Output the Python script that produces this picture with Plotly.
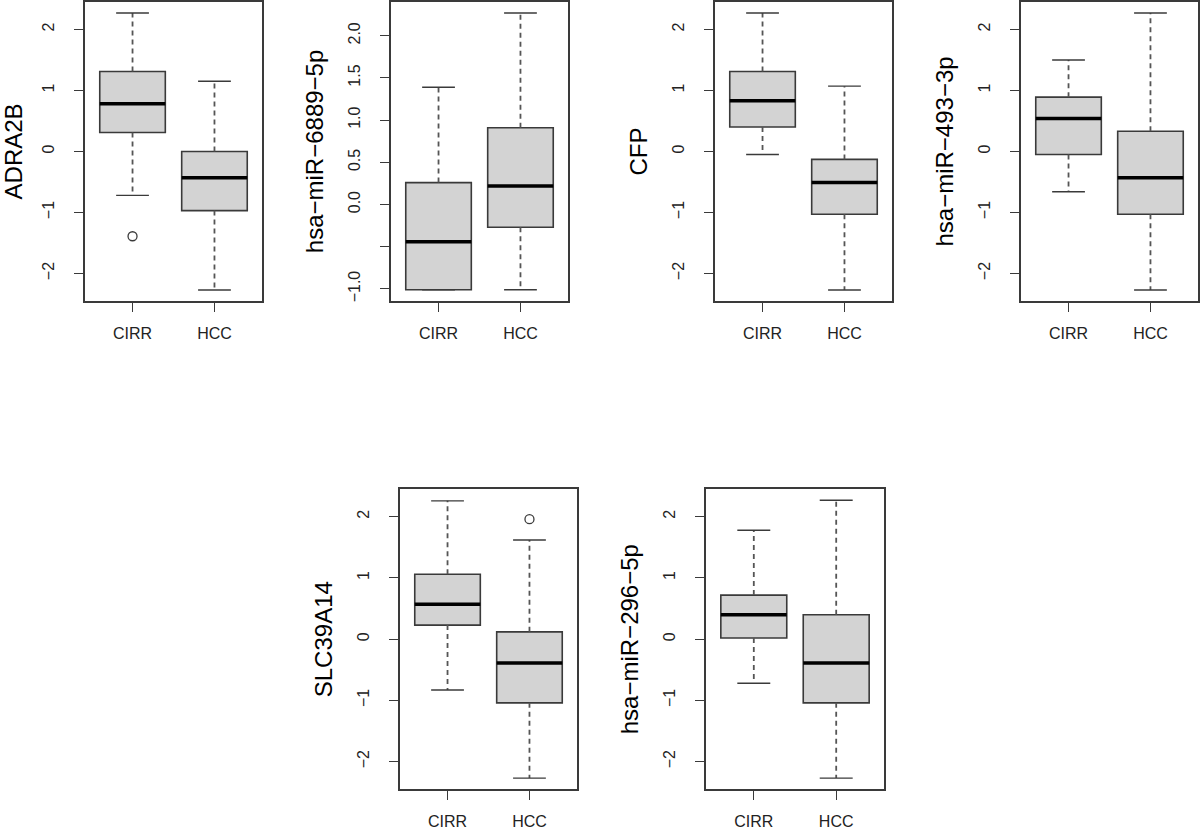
import plotly.graph_objects as go

# ---------------- data ----------------
labels = ["ADRA2B", "hsa−miR−6889−5p", "CFP", "hsa−miR−493−3p", "SLC39A14", "hsa−miR−296−5p"]
groups = ["CIRR", "HCC"]

cirr_lower = [-0.72, -1.01, -0.05, -0.66, -0.83, -0.72]
cirr_q1 = [0.31, -1.01, 0.40, -0.05, 0.23, 0.02]
cirr_median = [0.78, -0.44, 0.83, 0.54, 0.57, 0.40]
cirr_q3 = [1.31, 0.26, 1.31, 0.89, 1.06, 0.72]
cirr_upper = [2.27, 1.39, 2.27, 1.50, 2.26, 1.78]
cirr_outliers = [[-1.39], [], [], [], [], []]

hcc_lower = [-2.27, -1.01, -2.27, -2.27, -2.27, -2.27]
hcc_q1 = [-0.97, -0.27, -1.03, -1.03, -1.04, -1.04]
hcc_median = [-0.43, 0.22, -0.51, -0.43, -0.39, -0.39]
hcc_q3 = [0.00, 0.91, -0.13, 0.33, 0.12, 0.40]
hcc_upper = [1.15, 2.27, 1.07, 2.27, 1.62, 2.27]
hcc_outliers = [[], [], [], [], [1.96], []]

y_ranges = [[-2.45, 2.45], [-1.142, 2.40], [-2.45, 2.45], [-2.45, 2.45], [-2.45, 2.45], [-2.45, 2.45]]
y_tickvals = [[-2, -1, 0, 1, 2], [-1.0, -0.5, 0.0, 0.5, 1.0, 1.5, 2.0], [-2, -1, 0, 1, 2],
              [-2, -1, 0, 1, 2], [-2, -1, 0, 1, 2], [-2, -1, 0, 1, 2]]
y_ticktext = [["−2", "−1", "0", "1", "2"], ["−1.0", "", "0.0", "0.5", "1.0", "1.5", "2.0"],
              ["−2", "−1", "0", "1", "2"], ["−2", "−1", "0", "1", "2"],
              ["−2", "−1", "0", "1", "2"], ["−2", "−1", "0", "1", "2"]]

# ---------------- layout geometry (pixels) ----------------
W, H = 1200, 830
panel_px = [  # x0, x1, y0(top), y1(bottom)
    (85, 262, 2, 302),
    (391, 568, 2, 302),
    (715, 892, 2, 302),
    (1021, 1198, 2, 302),
    (400, 577, 491, 792),
    (706, 884, 491, 792),
]

BOX_W = 0.8
CAP_W = BOX_W / 2
FONT = "Liberation Sans, Arial, Helvetica, sans-serif"
INK = "#3a3a3a"
FILL = "#d3d3d3"

fig = go.Figure()
layout = {}

for i, lab in enumerate(labels):
    n = "" if i == 0 else str(i + 1)
    xa, ya = "x" + n, "y" + n
    stats = [
        (1, cirr_lower[i], cirr_q1[i], cirr_median[i], cirr_q3[i], cirr_upper[i], cirr_outliers[i]),
        (2, hcc_lower[i], hcc_q1[i], hcc_median[i], hcc_q3[i], hcc_upper[i], hcc_outliers[i]),
    ]
    for pos, lo, q1, med, q3, hi, outs in stats:
        # dashed whiskers
        fig.add_trace(go.Scatter(
            x=[pos, pos, None, pos, pos], y=[q3, hi, None, q1, lo],
            mode="lines", line=dict(color="#555555", width=1.8, dash="5px,4px"),
            xaxis=xa, yaxis=ya, showlegend=False, hoverinfo="skip"))
        # staples
        fig.add_trace(go.Scatter(
            x=[pos - CAP_W / 2, pos + CAP_W / 2, None, pos - CAP_W / 2, pos + CAP_W / 2],
            y=[hi, hi, None, lo, lo],
            mode="lines", line=dict(color=INK, width=1.4),
            xaxis=xa, yaxis=ya, showlegend=False, hoverinfo="skip"))
        # box body
        fig.add_trace(go.Box(
            x=[pos], q1=[q1], median=[med], q3=[q3], lowerfence=[q1], upperfence=[q3],
            width=BOX_W, whiskerwidth=0, fillcolor=FILL,
            line=dict(color=INK, width=1.6), boxpoints=False,
            xaxis=xa, yaxis=ya, showlegend=False, name=groups[pos - 1]))
        # thick median
        fig.add_trace(go.Scatter(
            x=[pos - BOX_W / 2, pos + BOX_W / 2], y=[med, med],
            mode="lines", line=dict(color="black", width=3.5),
            xaxis=xa, yaxis=ya, showlegend=False, hoverinfo="skip"))
        if outs:
            fig.add_trace(go.Scatter(
                x=[pos] * len(outs), y=outs, mode="markers",
                marker=dict(symbol="circle-open", size=9, color=INK, line=dict(width=1.3)),
                xaxis=xa, yaxis=ya, showlegend=False))

    x0, x1, t, b = panel_px[i]
    layout["xaxis" + n] = dict(
        domain=[x0 / W, x1 / W], anchor=ya, range=[0.42, 2.58],
        tickvals=[1, 2], ticktext=groups, ticks="outside", ticklen=9, tickwidth=1.4,
        tickcolor=INK, showline=True, mirror=True, linecolor=INK, linewidth=1.5,
        showgrid=False, zeroline=False, tickfont=dict(size=16, color="#222222", family=FONT),
        ticklabelstandoff=8)
    layout["yaxis" + n] = dict(
        domain=[1 - b / H, 1 - t / H], anchor=xa, range=y_ranges[i],
        tickvals=y_tickvals[i], ticktext=y_ticktext[i], tickangle=-90,
        ticks="outside", ticklen=9, tickwidth=1.4, tickcolor=INK,
        showline=True, mirror=True, linecolor=INK, linewidth=1.5,
        showgrid=False, zeroline=False, tickfont=dict(size=16, color="#222222", family=FONT),
        ticklabelstandoff=14,
        title=dict(text=lab, font=dict(size=24, color="black", family=FONT), standoff=15))

fig.update_layout(
    width=W, height=H, margin=dict(l=0, r=0, t=0, b=0),
    paper_bgcolor="white", plot_bgcolor="white",
    font=dict(family=FONT, color=INK), showlegend=False, **layout)

fig.write_html("out.html", config={"displayModeBar": False},
               post_script="document.body.style.margin='0';document.body.style.padding='0';")
